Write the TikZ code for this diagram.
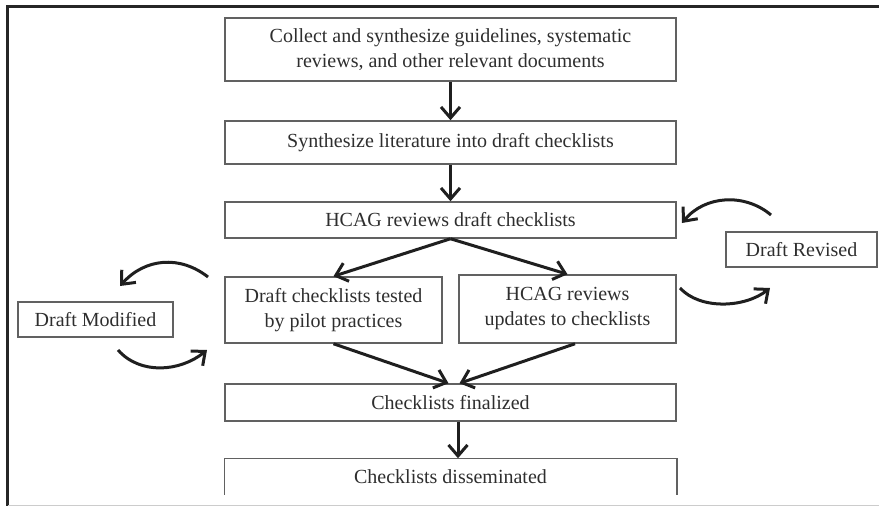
\documentclass[tikz,border=0pt]{standalone}
\usepackage{fontspec}
\setmainfont{Liberation Serif}
\usetikzlibrary{arrows.meta}
\begin{document}
\begin{tikzpicture}[x=1pt,y=-1pt,
  box/.style={draw=black!62, line width=1.5pt, inner sep=0pt, text=black!82,
    font=\fontsize{20}{25}\selectfont, align=center},
  arr/.style={draw=black!88, line width=3pt,
    -{Straight Barb[length=11pt,width=19pt,line width=3pt]}},
]
\useasboundingbox (0,0) rectangle (879,506);
% frame
\draw[black!85, line width=3pt] (7,506) -- (7,6) -- (879,6);
\draw[black!20, line width=1pt] (8,505) -- (879,505);

% main boxes
\node[box, minimum width=451pt, minimum height=63pt] (b1) at (450.5,49.5)
  {Collect and synthesize guidelines, systematic\\reviews, and other relevant documents};
\node[box, minimum width=451pt, minimum height=43pt] (b2) at (450.5,142.5)
  {Synthesize literature into draft checklists};
\node[box, minimum width=451pt, minimum height=36pt] (b3) at (450.5,220)
  {HCAG reviews draft checklists};
\node[box, minimum width=217pt, minimum height=66pt] (b4) at (333.5,310)
  {Draft checklists tested\\by pilot practices};
\node[box, minimum width=217pt, minimum height=68pt] (b5) at (567.5,309)
  {HCAG reviews\\updates to checklists};
\node[box, minimum width=451pt, minimum height=37pt] (b6) at (450.5,402.5)
  {Checklists finalized};
\node[box, draw=none, minimum width=451pt, minimum height=35pt] (b7) at (450.5,476.5)
  {Checklists disseminated};
\draw[black!62, line width=1.5pt] (b7.south west) -- (b7.north west) -- (b7.north east) -- (b7.south east);

% side boxes
\node[box, minimum width=155pt, minimum height=35pt] (dm) at (95.5,319.5) {Draft Modified};
\node[box, minimum width=151pt, minimum height=35pt] (dr) at (801.5,249.5) {Draft Revised};

% straight arrows
\draw[arr] (b1.south) -- (b2.north);
\draw[arr] (b2.south) -- (b3.north);
\draw[arr] (b3.south) -- (b4.north);
\draw[arr] (b3.south) -- (b5.north);
\draw[arr] (b4.south) -- ([xshift=-2pt]b6.north);
\draw[arr] ([xshift=7.5pt]b5.south) -- ([xshift=9pt]b6.north);
\draw[arr] ([xshift=7.5pt]b6.south) -- ([xshift=7.5pt]b7.north);

% curved arrows
\coordinate (l1s) at (208,277);
\coordinate (l1e) at (120,286);
\coordinate (l2s) at (118,350);
\coordinate (l2e) at (207,350);
\coordinate (r1s) at (771,215);
\coordinate (r1e) at (682,223);
\coordinate (r2s) at (680,288);
\coordinate (r2e) at (770,288);
\draw[arr] (l1s) .. controls (180,255) and (145,258) .. (l1e);
\draw[arr] (l2s) .. controls (140,375) and (180,372) .. (l2e);
\draw[arr] (r1s) .. controls (745,193) and (705,195) .. (r1e);
\draw[arr] (r2s) .. controls (700,310) and (745,308) .. (r2e);
\end{tikzpicture}
\end{document}
